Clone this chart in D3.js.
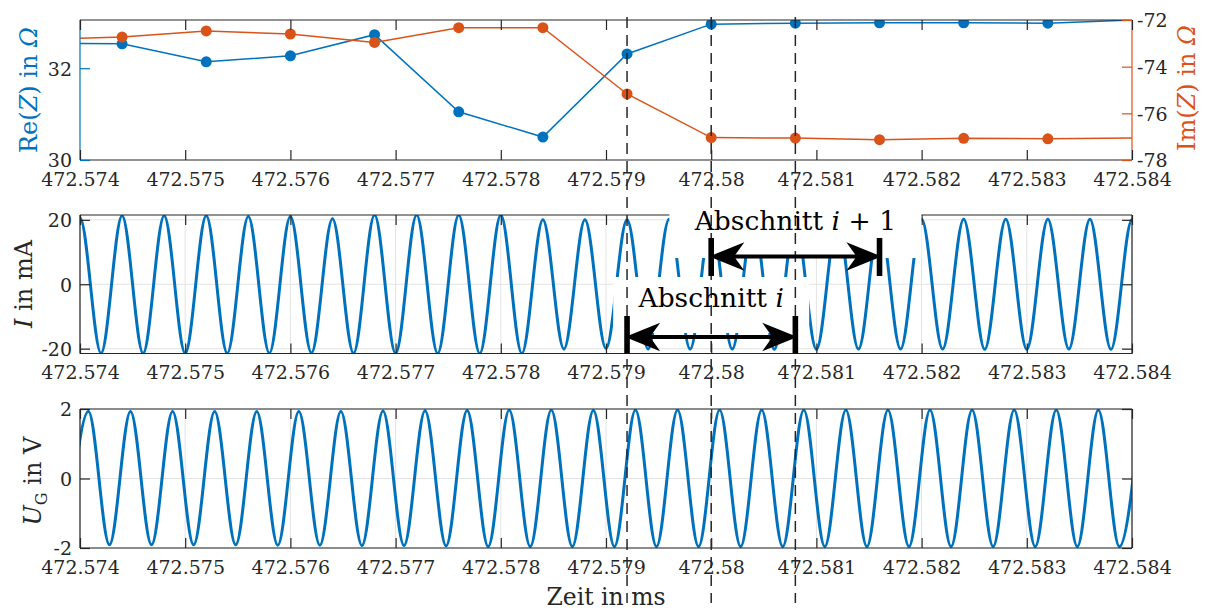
<!DOCTYPE html>
<html><head><meta charset="utf-8">
<script src="https://cdn.jsdelivr.net/npm/d3@7"></script>
<style>
body{margin:0;background:#fff;}
svg text{font-family:"DejaVu Serif","Liberation Serif",serif;fill:#262626;}
</style></head><body>
<svg id="c" width="1207" height="610"></svg>
<script>
// ---------- data ----------
const xTicks = [472.574,472.575,472.576,472.577,472.578,472.579,472.580,472.581,472.582,472.583,472.584];
const xTickLabels = ["472.574","472.575","472.576","472.577","472.578","472.579","472.58","472.581","472.582","472.583","472.584"];

const zTime = [472.5736,472.5744,472.5752,472.5760,472.5768,472.5776,472.5784,472.5792,472.5800,472.5808,472.5816,472.5824,472.5832,472.5840];
const reZ   = [32.55,32.53,32.14,32.27,32.73,31.05,30.50,32.31,32.96,32.98,32.99,32.99,32.98,33.05];
const imZ   = [-72.84,-72.73,-72.47,-72.60,-72.96,-72.33,-72.33,-75.17,-77.04,-77.06,-77.13,-77.07,-77.09,-77.06];
const reTicks = [30,32], reTickLabels = ["30","32"];
const imTicks = [-78,-76,-74,-72], imTickLabels = ["-78","-76","-74","-72"];

// current I (mA): extrema (peaks / troughs)
const iTime = [472.5738,472.5740,472.5742,472.5744,472.5746,472.5748,472.5750,472.5752,472.5754,472.5756,472.5758,472.5760,472.5762,472.5764,472.5766,472.5768,472.5770,472.5772,472.5774,472.5776,472.5778,472.5780,472.5782,472.5784,472.5786,472.5788,472.5790,472.5792,472.5794,472.5796,472.5798,472.5800,472.5802,472.5804,472.5806,472.5808,472.5810,472.5812,472.5814,472.5816,472.5818,472.5820,472.5822,472.5824,472.5826,472.5828,472.5830,472.5832,472.5834,472.5836,472.5838,472.5840,472.5842];
const iVal  = [-21.4,20.6,-21.4,21.3,-21.4,21.3,-21.4,21.3,-21.4,21.0,-21.4,21.0,-21.3,20.3,-21.4,21.5,-21.5,21.5,-21.5,21.5,-21.5,21.5,-21.5,20.0,-20.1,20.0,-19.9,20.0,-20.1,20.2,-20.1,20.2,-20.1,20.2,-20.2,20.2,-20.2,20.2,-20.1,20.2,-20.1,20.2,-20.1,20.2,-20.2,20.2,-20.2,20.2,-20.1,20.2,-20.2,20.0,-20.2];
const iTicks = [-20,0,20], iTickLabels = ["-20","0","20"];

// generator voltage U_G (V): extrema
const uTime = [472.57388,472.57408,472.57428,472.57448,472.57468,472.57488,472.57508,472.57528,472.57548,472.57568,472.57588,472.57608,472.57628,472.57648,472.57668,472.57688,472.57708,472.57728,472.57748,472.57768,472.57788,472.57808,472.57828,472.57848,472.57868,472.57888,472.57908,472.57928,472.57948,472.57968,472.57988,472.58008,472.58028,472.58048,472.58068,472.58088,472.58108,472.58128,472.58148,472.58168,472.58188,472.58208,472.58228,472.58248,472.58268,472.58288,472.58308,472.58328,472.58348,472.58368,472.58388,472.58408];
const uVal  = [-1.91,1.93,-1.91,1.93,-1.91,1.93,-1.91,1.93,-1.91,1.93,-1.92,1.93,-1.92,1.93,-1.93,1.94,-1.93,1.95,-1.94,1.96,-1.96,1.97,-1.96,1.97,-1.96,1.96,-1.96,1.97,-1.96,1.97,-1.96,1.97,-1.96,1.97,-1.96,1.97,-1.96,1.97,-1.96,1.97,-1.96,1.97,-1.96,1.97,-1.96,1.97,-1.96,1.97,-1.96,1.97,-1.96,1.97];
const uTicks = [-2,0,2], uTickLabels = ["-2","0","2"];

const windowMarks = [472.5792,472.5800,472.5808];
const sections = [
  {label:"Abschnitt ", math:"i", suffix:"", start:472.5792, end:472.5808},
  {label:"Abschnitt ", math:"i", suffix:" + 1", start:472.5800, end:472.5816}
];

// ---------- layout ----------
const FONT = "'DejaVu Serif','Liberation Serif',serif";
const BLUE="#0072BD", ORANGE="#D95319", AX="#262626", GRID="#e3e3e3";
const L=80, R=1132;
const P = {top:[20,160], mid:[215,353.5], bot:[409,548]};
const svg = d3.select("#c");
const x = d3.scaleLinear().domain([472.574,472.584]).range([L,R]);
const yRe = d3.scaleLinear().domain([30,33.05]).range([P.top[1],P.top[0]]);
const yIm = d3.scaleLinear().domain([-78,-72]).range([P.top[1],P.top[0]]);
const yI  = d3.scaleLinear().domain([-21.5,21.5]).range([P.mid[1],P.mid[0]]);
const yU  = d3.scaleLinear().domain([-2,2]).range([P.bot[1],P.bot[0]]);

const defs = svg.append("defs");
Object.entries(P).forEach(([k,[t,b]])=>{
  defs.append("clipPath").attr("id","clip-"+k).append("rect")
    .attr("x",L).attr("y",t).attr("width",R-L).attr("height",b-t);
});

const TICKFS=19;
function styleTicks(g, color){
  g.attr("font-family",null).attr("font-size",null);
  g.select(".domain").remove();
  g.selectAll(".tick line").attr("stroke",color).attr("stroke-width",1.2);
  g.selectAll(".tick text").attr("fill",color).style("font-size",TICKFS+"px")
    .style("font-family",FONT);
}
function xAxes(panel){
  const [t,b]=P[panel];
  const gb = svg.append("g").attr("transform",`translate(0,${b})`)
    .call(d3.axisBottom(x).tickValues(xTicks).tickFormat((d,i)=>xTickLabels[i]).tickSizeInner(-10).tickSizeOuter(0).tickPadding(12.5));
  styleTicks(gb, AX);
  gb.selectAll(".tick text").attr("dy","0.71em");
  const gt = svg.append("g").attr("transform",`translate(0,${t})`)
    .call(d3.axisTop(x).tickValues(xTicks).tickFormat("").tickSizeInner(-10).tickSizeOuter(0));
  styleTicks(gt, AX);
}
function yAxisLeft(panel, scale, ticks, labels, color){
  const g = svg.append("g").attr("transform",`translate(${L},0)`)
    .call(d3.axisLeft(scale).tickValues(ticks).tickFormat((d,i)=>labels[i]).tickSizeInner(-10).tickSizeOuter(0).tickPadding(8));
  styleTicks(g, color);
  g.selectAll(".tick text").attr("dy","0.36em");
}
function yAxisRight(panel, scale, ticks, labels, color, showLabels){
  const g = svg.append("g").attr("transform",`translate(${R},0)`)
    .call(d3.axisRight(scale).tickValues(ticks).tickFormat((d,i)=>showLabels?labels[i]:"").tickSizeInner(-10).tickSizeOuter(0).tickPadding(5));
  styleTicks(g, color);
  g.selectAll(".tick text").attr("dy","0.36em");
}
function grid(panel, yScale, yTicks){
  const [t,b]=P[panel];
  const g = svg.append("g");
  g.selectAll("line.gx").data(xTicks).join("line")
    .attr("x1",d=>x(d)).attr("x2",d=>x(d)).attr("y1",t).attr("y2",b)
    .attr("stroke",GRID).attr("stroke-width",1);
  g.selectAll("line.gy").data(yTicks).join("line")
    .attr("x1",L).attr("x2",R).attr("y1",d=>yScale(d)).attr("y2",d=>yScale(d))
    .attr("stroke",GRID).attr("stroke-width",1);
}
function frame(panel, leftColor, rightColor){
  const [t,b]=P[panel];
  const g = svg.append("g").attr("fill","none").attr("stroke-width",1.2);
  g.append("line").attr("x1",L).attr("x2",R).attr("y1",t).attr("y2",t).attr("stroke",AX);
  g.append("line").attr("x1",L).attr("x2",R).attr("y1",b).attr("y2",b).attr("stroke",AX);
  g.append("line").attr("x1",L).attr("x2",L).attr("y1",t).attr("y2",b).attr("stroke",leftColor);
  g.append("line").attr("x1",R).attr("x2",R).attr("y1",t).attr("y2",b).attr("stroke",rightColor);
}

// ---------- top panel: impedance ----------
const zData = zTime.map((t,i)=>({t, re:reZ[i], im:imZ[i]}));
const inner = zData.filter(d=>d.t>472.5741 && d.t<472.5839);
const gTop = svg.append("g").attr("clip-path","url(#clip-top)");
gTop.append("path").datum(zData).attr("fill","none").attr("stroke",BLUE).attr("stroke-width",1.5)
  .attr("d",d3.line().x(d=>x(d.t)).y(d=>yRe(d.re)));
gTop.selectAll("circle.re").data(inner).join("circle").attr("cx",d=>x(d.t)).attr("cy",d=>yRe(d.re)).attr("r",5.5).attr("fill",BLUE);
gTop.append("path").datum(zData).attr("fill","none").attr("stroke",ORANGE).attr("stroke-width",1.5)
  .attr("d",d3.line().x(d=>x(d.t)).y(d=>yIm(d.im)));
gTop.selectAll("circle.im").data(inner).join("circle").attr("cx",d=>x(d.t)).attr("cy",d=>yIm(d.im)).attr("r",5.5).attr("fill",ORANGE);
frame("top", BLUE, ORANGE);
xAxes("top");
yAxisLeft("top", yRe, reTicks, reTickLabels, BLUE);
yAxisRight("top", yIm, imTicks, imTickLabels, ORANGE, true);

// ---------- middle panel: current ----------
grid("mid", yI, iTicks);
const curve = d3.line().x(d=>x(d[0])).y(d=>d[1]).curve(d3.curveMonotoneX);
svg.append("path").attr("clip-path","url(#clip-mid)")
  .datum(iTime.map((t,i)=>[t,yI(iVal[i])]))
  .attr("fill","none").attr("stroke",BLUE).attr("stroke-width",3).attr("d",curve);
frame("mid", AX, AX);
xAxes("mid");
yAxisLeft("mid", yI, iTicks, iTickLabels, AX);
yAxisRight("mid", yI, iTicks, iTickLabels, AX, false);

// ---------- bottom panel: voltage ----------
grid("bot", yU, uTicks);
svg.append("path").attr("clip-path","url(#clip-bot)")
  .datum(uTime.map((t,i)=>[t,yU(uVal[i])]))
  .attr("fill","none").attr("stroke",BLUE).attr("stroke-width",3).attr("d",curve);
frame("bot", AX, AX);
xAxes("bot");
yAxisLeft("bot", yU, uTicks, uTickLabels, AX);
yAxisRight("bot", yU, uTicks, uTickLabels, AX, false);

// ---------- axis labels ----------
const LBLFS = 24;
function vLabel(xp, yp, parts, color){
  const t = svg.append("text").attr("transform",`translate(${xp},${yp}) rotate(-90)`)
    .attr("text-anchor","middle").style("font-size",LBLFS+"px").attr("fill",color);
  parts.forEach(p=>{
    const s=t.append("tspan").text(p.s).attr("fill",color);
    if(p.it) s.style("font-style","italic");
    if(p.sub) s.style("font-size","16px").attr("dy","6");
    if(p.up) s.attr("dy","-6");
  });
}
vLabel(37, 90, [{s:"Re("},{s:"Z",it:1},{s:") in "},{s:"Ω",it:1}], BLUE);
vLabel(1195, 88, [{s:"Im("},{s:"Z",it:1},{s:") in "},{s:"Ω",it:1}], ORANGE);
vLabel(32, 284, [{s:"I",it:1},{s:" in mA"}], AX);
vLabel(41, 481, [{s:"U",it:1},{s:"G",sub:1},{s:" in V",up:1}], AX);
svg.append("text").attr("x",(L+R)/2).attr("y",605).attr("text-anchor","middle")
  .style("font-size","23.5px").text("Zeit in ms");

// ---------- annotations ----------
const ANNFS = 26.5;
const boxes = [
  {top:277, bottom:333, half:98, base:307, arrowY:337, barTop:316, barBot:353.5},
  {top:198, bottom:258, half:126, base:230, arrowY:256.5, barTop:238, barBot:276}
];
sections.forEach((s,i)=>{
  const b=boxes[i], cx=(x(s.start)+x(s.end))/2;
  svg.append("rect").attr("x",cx-b.half).attr("y",b.top).attr("width",2*b.half).attr("height",b.bottom-b.top).attr("fill","#fff");
});
// dashed window marks
svg.selectAll("line.win").data(windowMarks).join("line")
  .attr("x1",d=>x(d)).attr("x2",d=>x(d)).attr("y1",17).attr("y2",603)
  .attr("stroke",AX).attr("stroke-width",1.5).attr("stroke-dasharray","11,7");
sections.forEach((s,i)=>{
  const b=boxes[i], x0=x(s.start), x1=x(s.end), cx=(x0+x1)/2;
  const t=svg.append("text").attr("x",cx).attr("y",b.base).attr("text-anchor","middle")
    .style("font-size",ANNFS+"px").attr("fill","#000");
  t.append("tspan").text(s.label).attr("fill","#000");
  t.append("tspan").text(s.math).style("font-style","italic").attr("fill","#000");
  if(s.suffix) t.append("tspan").text(s.suffix).attr("fill","#000");
  const g=svg.append("g").attr("fill","#000").attr("stroke","#000");
  g.append("line").attr("x1",x0+20).attr("x2",x1-20).attr("y1",b.arrowY).attr("y2",b.arrowY).attr("stroke-width",4.2);
  const head=(tx,dir)=>`M${tx},${b.arrowY} L${tx+dir*31},${b.arrowY-12.5} L${tx+dir*22},${b.arrowY} L${tx+dir*31},${b.arrowY+12.5} Z`;
  g.append("path").attr("d",head(x0,1)).attr("stroke-width",1.5).attr("stroke-linejoin","miter");
  g.append("path").attr("d",head(x1,-1)).attr("stroke-width",1.5).attr("stroke-linejoin","miter");
  g.append("rect").attr("x",x0-2.8).attr("y",b.barTop).attr("width",5.6).attr("height",b.barBot-b.barTop).attr("stroke","none");
  g.append("rect").attr("x",x1-2.8).attr("y",b.barTop).attr("width",5.6).attr("height",b.barBot-b.barTop).attr("stroke","none");
});
</script>
</body></html>
